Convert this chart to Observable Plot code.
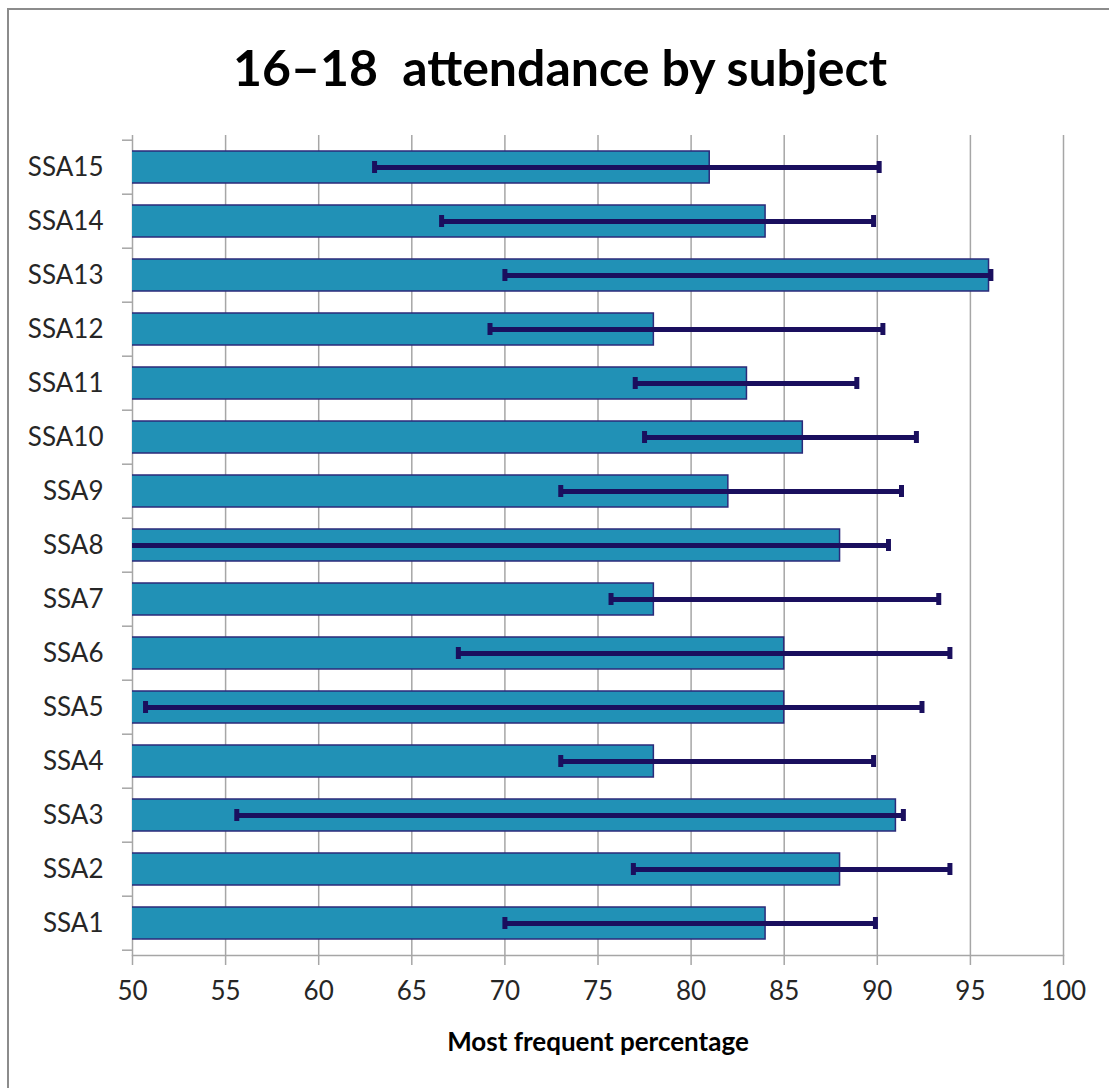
<!DOCTYPE html>
<html>
<head>
<meta charset="utf-8">
<script src="https://cdn.jsdelivr.net/npm/d3@7"></script>
<script src="https://cdn.jsdelivr.net/npm/@observablehq/plot@0.6"></script>
<style>
  html, body { margin: 0; padding: 0; background: #fff; overflow: hidden; }
  #frame {
    position: absolute; left: 7px; top: 8px; width: 1102px; height: 1080px;
    border-left: 2px solid #8c8c8c; border-top: 2px solid #8c8c8c;
    font-family: Lato, "Open Sans", sans-serif;
  }
  #title {
    height: 115px; line-height: 115px; text-align: center;
    font-weight: bold; font-size: 50px; color: #000; white-space: pre;
  }
</style>
</head>
<body>
<div id="frame">
  <div id="title">16–18  attendance by subject</div>
  <div id="chart"></div>
</div>
<script>
const categories = ["SSA1","SSA2","SSA3","SSA4","SSA5","SSA6","SSA7","SSA8","SSA9","SSA10","SSA11","SSA12","SSA13","SSA14","SSA15"];
const values     = [84, 88, 91, 78, 85, 85, 78, 88, 82, 86, 83, 78, 96, 84, 81];
const errLow     = [70, 76.9, 55.6, 73, 50.7, 67.5, 75.7, 47, 73, 77.5, 77, 69.2, 70, 66.6, 63];
const errHigh    = [89.9, 93.9, 91.4, 89.8, 92.4, 93.9, 93.3, 90.6, 91.3, 92.1, 88.9, 90.3, 96.1, 89.8, 90.1];
const xTicks     = [50, 55, 60, 65, 70, 75, 80, 85, 90, 95, 100];
const xLabel = "Most frequent percentage";

const data = categories.map((c, i) => ({cat: c, value: values[i], low: errLow[i], high: errHigh[i]}));

const PAD_IN = 0.4;
const PAD_OUT = 0.2;
const barFill = "#2191b6";
const barStroke = "#2b2a7a";
const errColor = "#1a0f5e";
const gridColor = "#a6a6a6";

// tick marks on the category axis at band boundaries
function bandBoundaryTicks(index, scales, values, dimensions) {
  const y = scales.y;
  const pos = categories.map(c => y(c));
  const step = Math.abs(pos[1] - pos[0]);
  const bw = step * (1 - PAD_IN);
  const tops = pos.map(p => p - step * PAD_IN / 2);
  const bottom = Math.max(...pos) + bw + step * PAD_IN / 2;
  const g = d3.create("svg:g").attr("stroke", gridColor).attr("stroke-width", 1.5);
  const x0 = dimensions.marginLeft;
  for (const t of [...tops, bottom]) {
    g.append("line").attr("x1", x0 - 10).attr("x2", x0).attr("y1", t).attr("y2", t);
  }
  return g.node();
}

const plot = Plot.plot({
  width: 1100,
  height: 945,
  marginTop: 10,
  marginBottom: 115,
  marginLeft: 123,
  marginRight: 46,
  style: {fontFamily: "Lato, 'Open Sans', sans-serif", background: "#fff"},
  x: {domain: [50, 100]},
  y: {domain: categories.slice().reverse(), paddingInner: PAD_IN, paddingOuter: PAD_OUT},
  marks: [
    Plot.gridX(xTicks, {stroke: gridColor, strokeOpacity: 1, strokeWidth: 1.5}),
    Plot.frame({anchor: "bottom", stroke: gridColor, strokeWidth: 1.5}),
    Plot.barX(data, {y: "cat", x: "value", fill: barFill, stroke: barStroke, strokeWidth: 1.5, clip: true}),
    Plot.ruleY(data, {y: "cat", x1: "low", x2: "high", stroke: errColor, strokeWidth: 5, clip: true}),
    Plot.tickX(data, {y: "cat", x: "low", stroke: errColor, strokeWidth: 5, insetTop: 10, insetBottom: 10, clip: true}),
    Plot.tickX(data, {y: "cat", x: "high", stroke: errColor, strokeWidth: 5, insetTop: 10, insetBottom: 10, clip: true}),
    bandBoundaryTicks,
    Plot.axisY({tickSize: 0, tickPadding: 29, fontSize: 26, fill: "#262626", label: null}),
    Plot.axisX(xTicks, {tickSize: 10, stroke: gridColor, strokeWidth: 1.5, strokeOpacity: 1, tickPadding: 16, fontSize: 26, fill: "#262626",
      label: xLabel, labelAnchor: "center", labelOffset: 95, labelArrow: "none"})
  ]
});
document.getElementById("chart").appendChild(plot);

// style axis label bold and black
d3.select(plot).selectAll("text").filter(function() { return this.textContent === xLabel; })
  .attr("font-weight", "bold").attr("font-size", 26).attr("fill", "#000");
</script>
</body>
</html>
